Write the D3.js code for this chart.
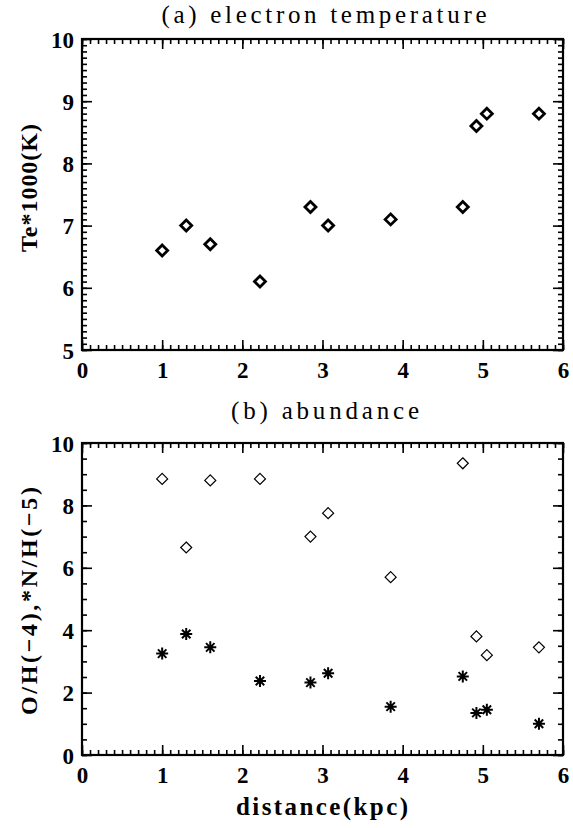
<!DOCTYPE html>
<html><head><meta charset="utf-8">
<script src="https://cdn.jsdelivr.net/npm/d3@7"></script>
<style>
html,body{margin:0;padding:0;background:#fff;}
svg text{font-family:"Liberation Serif","Times New Roman",serif;fill:#000;}
</style></head>
<body>
<svg id="c" width="573" height="828"></svg>
<script>
// ---- data ----
const distA = [1.0, 1.3, 1.6, 2.22, 2.85, 3.07, 3.85, 4.75, 4.92, 5.05, 5.7];
const teA   = [6.6, 7.0, 6.7, 6.1, 7.3, 7.0, 7.1, 7.3, 8.6, 8.8, 8.8];
const distB = [1.0, 1.3, 1.6, 2.22, 2.85, 3.07, 3.85, 4.75, 4.92, 5.05, 5.7];
const oH    = [8.85, 6.65, 8.8, 8.85, 7.0, 7.75, 5.7, 9.35, 3.8, 3.2, 3.45];
const nH    = [3.25, 3.88, 3.45, 2.37, 2.32, 2.62, 1.55, 2.52, 1.35, 1.45, 1.0];
const xTicks = [0, 1, 2, 3, 4, 5, 6];
const yTicksA = [5, 6, 7, 8, 9, 10];
const yTicksB = [0, 2, 4, 6, 8, 10];
const titleA = "(a) electron temperature";
const titleB = "(b) abundance";
const yLabelA = "Te*1000(K)";
const yLabelB = "O/H(\u22124),*N/H(\u22125)";
const xLabel = "distance(kpc)";

const FONT = '"Liberation Serif","Times New Roman",serif';
const svg = d3.select("#c");
const L = 82, R = 563;

function panel(top, bottom, yDomain, yTicks, yMinorStep, xMinorStep) {
  const g = svg.append("g");
  const x = d3.scaleLinear().domain([0, 6]).range([L, R]);
  const y = d3.scaleLinear().domain(yDomain).range([bottom, top]);
  const xMinor = d3.range(0, 6 + 1e-9, xMinorStep).map(v => +v.toFixed(4));
  const yMinor = d3.range(yDomain[0], yDomain[1] + 1e-9, yMinorStep).map(v => +v.toFixed(4));
  const majLen = 10, minLen = 5;
  const addAxis = (axis, tr) => {
    const a = g.append("g").attr("transform", tr).call(axis);
    a.select(".domain").remove();
    a.selectAll("line").attr("stroke", "#000").attr("stroke-width", 1.6);
    return a;
  };
  addAxis(d3.axisBottom(x).tickValues(xMinor).tickSize(-minLen).tickFormat(""), `translate(0,${bottom})`);
  addAxis(d3.axisTop(x).tickValues(xMinor).tickSize(-minLen).tickFormat(""), `translate(0,${top})`);
  addAxis(d3.axisLeft(y).tickValues(yMinor).tickSize(-minLen).tickFormat(""), `translate(${L},0)`);
  addAxis(d3.axisRight(y).tickValues(yMinor).tickSize(-minLen).tickFormat(""), `translate(${R},0)`);
  const xb = addAxis(d3.axisBottom(x).tickValues(xTicks).tickSize(-majLen).tickFormat(d3.format("d")), `translate(0,${bottom})`);
  addAxis(d3.axisTop(x).tickValues(xTicks).tickSize(-majLen).tickFormat(""), `translate(0,${top})`);
  const yl = addAxis(d3.axisLeft(y).tickValues(yTicks).tickSize(-majLen).tickFormat(d3.format("d")), `translate(${L},0)`);
  addAxis(d3.axisRight(y).tickValues(yTicks).tickSize(-majLen).tickFormat(""), `translate(${R},0)`);
  [xb, yl].forEach(a => a.selectAll("text")
    .attr("font-family", FONT).attr("font-size", 23).attr("font-weight", "bold").attr("fill", "#000"));
  xb.selectAll("text").attr("y", 20).attr("dy", "0.35em");
  yl.selectAll("text").attr("x", -8).attr("dy", "0.35em");
  g.append("rect").attr("x", L).attr("y", top).attr("width", R - L).attr("height", bottom - top)
    .attr("fill", "none").attr("stroke", "#000").attr("stroke-width", 2.2);
  return {g, x, y};
}

function diamondPath(cx, cy, r) {
  return `M${cx},${cy - r}L${cx + r},${cy}L${cx},${cy + r}L${cx - r},${cy}Z`;
}
function starPath(cx, cy, r) {
  let p = "";
  for (let k = 0; k < 4; k++) {
    const a = k * Math.PI / 4;
    const dx = r * Math.sin(a), dy = r * Math.cos(a);
    p += `M${cx - dx},${cy - dy}L${cx + dx},${cy + dy}`;
  }
  return p;
}

const A = panel(39, 350, [5, 10], yTicksA, 0.1, 0.1);
A.g.selectAll("path.pa").data(distA.map((d, i) => [d, teA[i]])).enter().append("path")
  .attr("d", d => diamondPath(A.x(d[0]), A.y(d[1]), 5.5))
  .attr("fill", "none").attr("stroke", "#000").attr("stroke-width", 2.8);

const B = panel(443, 755, [0, 10], yTicksB, 0.5, 0.1);
B.g.selectAll("path.pb").data(distB.map((d, i) => [d, oH[i]])).enter().append("path")
  .attr("d", d => diamondPath(B.x(d[0]), B.y(d[1]), 5.5))
  .attr("fill", "none").attr("stroke", "#000").attr("stroke-width", 1.2);
B.g.selectAll("path.sb").data(distB.map((d, i) => [d, nH[i]])).enter().append("path")
  .attr("d", d => starPath(B.x(d[0]), B.y(d[1]), 6))
  .attr("fill", "none").attr("stroke", "#000").attr("stroke-width", 2);

function label(txt, x, y, rot, size, weight, width) {
  return svg.append("text").text(txt)
    .attr("transform", `translate(${x},${y}) rotate(${rot})`)
    .attr("text-anchor", "middle").attr("font-size", size).attr("font-weight", weight)
    .attr("textLength", width).attr("lengthAdjust", "spacing");
}
label(titleA, 324, 23, 0, 25, "normal", 325);
label(titleB, 325, 419, 0, 25, "normal", 188);
label(xLabel, 322, 815, 0, 25, "bold", 172);
label(yLabelA, 37, 188, -90, 24, "bold", 128);
label(yLabelB, 37, 601, -90, 24, "bold", 228);
</script>
</body></html>
